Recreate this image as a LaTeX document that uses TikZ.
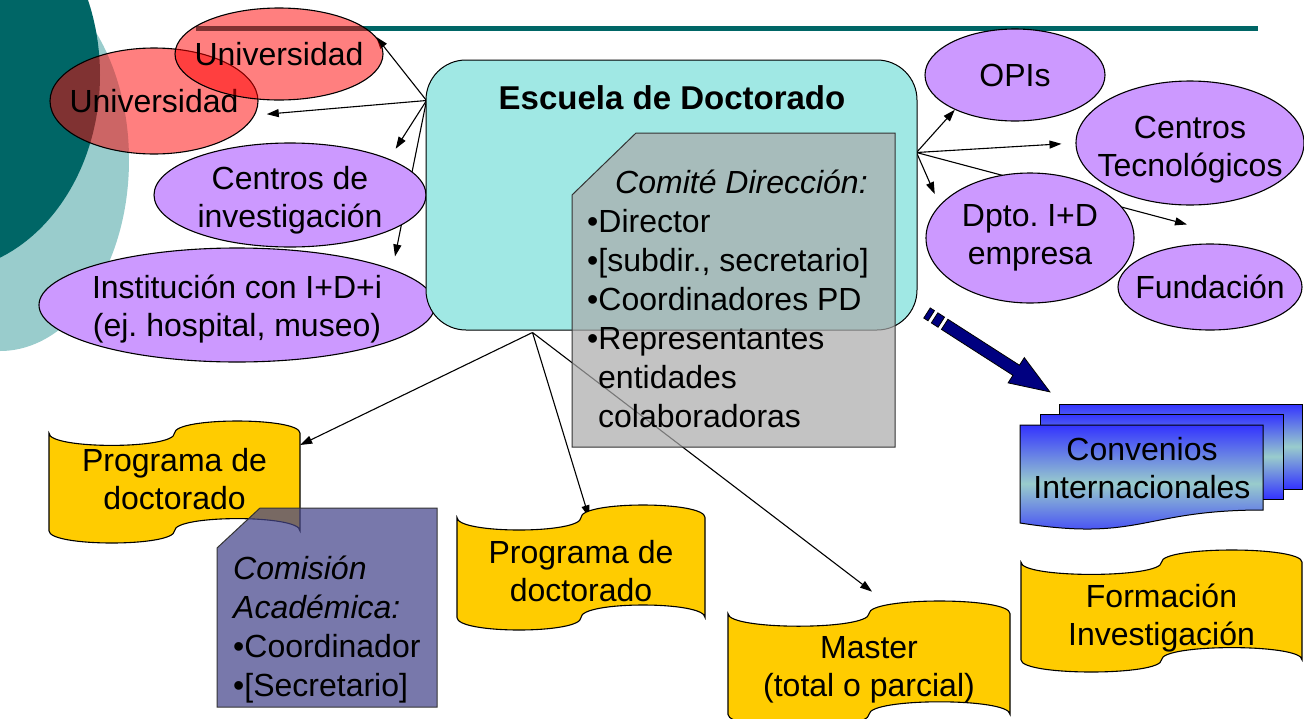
\documentclass[tikz,border=0pt]{standalone}
\usepackage{fontspec}
\setmainfont{Liberation Sans}
\usepackage{tikz}
\usetikzlibrary{calc,arrows.meta,positioning,shapes.geometric}
\usepackage{xcolor}
\definecolor{my_teal}{RGB}{0,102,102}
\definecolor{my_lteal}{RGB}{153,204,204}
\definecolor{my_lilac}{RGB}{204,153,255}
\definecolor{my_cyan}{RGB}{160,232,228}
\definecolor{my_gold}{RGB}{255,204,0}
\definecolor{my_slate}{RGB}{68,68,138}
\definecolor{my_grey}{RGB}{170,170,170}
\definecolor{my_navy}{RGB}{0,0,128}
\definecolor{my_blue}{RGB}{51,51,255}
\pgfdeclarelayer{background}
\pgfdeclarelayer{links}
\pgfsetlayers{background,links,main}
\tikzset{
  bigfont/.style    = {font=\fontsize{32}{38}\selectfont},
  blob/.style       = {ellipse, draw=black, line width=1.1pt, inner sep=-40pt, align=center, bigfont},
  uninode/.style    = {blob, fill=red, fill opacity=0.5, text opacity=1},
  labnode/.style    = {blob, fill=my_lilac},
  schoolbox/.style  = {rectangle, rounded corners=40pt, draw=black, line width=1pt, fill=my_cyan},
  tape/.style       = {draw=black, line width=1.1pt, fill=my_gold},
  tapetxt/.style    = {inner sep=0pt, align=center, bigfont},
  docsheet/.style   = {draw=black, line width=1pt, top color=my_blue, bottom color=my_blue, middle color=my_lteal},
  committee/.style  = {draw=black!80, line width=1pt, fill=my_grey, fill opacity=0.7},
  commission/.style = {draw=black!80, line width=1pt, fill=my_slate, fill opacity=0.72},
  listtxt/.style    = {inner sep=0pt, align=left, font=\fontsize{32}{39}\selectfont},
  stripearrow/.style= {fill=my_navy, draw=black, line width=0.8pt},
  conn/.style       = {black, line width=1.1pt, -{Triangle[length=12pt,width=8pt]}}
}
% punched tape outline: top-left x, top-left y, width, height
\newcommand{\tapeshape}[4]{%
  \draw[tape] ({#1},{#2+0.1*#4})
    .. controls ({#1},{#2+0.2333*#4}) and ({#1+0.5*#3},{#2+0.2333*#4}) .. ({#1+0.5*#3},{#2+0.1*#4})
    .. controls ({#1+0.5*#3},{#2-0.0333*#4}) and ({#1+#3},{#2-0.0333*#4}) .. ({#1+#3},{#2+0.1*#4})
    -- ({#1+#3},{#2+0.9*#4})
    .. controls ({#1+#3},{#2+0.7667*#4}) and ({#1+0.5*#3},{#2+0.7667*#4}) .. ({#1+0.5*#3},{#2+0.9*#4})
    .. controls ({#1+0.5*#3},{#2+1.0333*#4}) and ({#1},{#2+1.0333*#4}) .. ({#1},{#2+0.9*#4})
    -- cycle;
}

\begin{document}
\frenchspacing
\begin{tikzpicture}[x=1pt, y=-1pt]
    \useasboundingbox (0,0) rectangle (1304,718);

    % ----- Background -----
    \begin{pgfonlayer}{background}
      \fill[my_lteal] (0,160) ellipse [x radius=129, y radius=191];
      \fill[my_teal] (-60,75) ellipse [x radius=160, y radius=197];
      \draw[my_teal, line width=5pt] (196,28) -- (1258,28);
    \end{pgfonlayer}

    % ----- Partners on the left -----
    \node[uninode, minimum width=208pt, minimum height=106pt] (uni2) at (154,101) {Universidad};
    \node[uninode, minimum width=208pt, minimum height=92pt] (uni1) at (279,54) {Universidad};
    \node[labnode, minimum width=272pt, minimum height=104pt] (centros) at (290,195) {\rule{0pt}{34pt}Centros de\\investigación};
    \node[labnode, minimum width=396pt, minimum height=114pt] (inst) at (237,305) {\rule{0pt}{32pt}Institución con I+D+i\\(ej. hospital, museo)};

    % ----- Escuela de Doctorado -----
    \node[schoolbox, minimum width=491pt, minimum height=270pt] (escuela) at (671.5,195) {};
    \node[font=\fontsize{33}{38}\selectfont\bfseries] (esctitle) at (672,98) {Escuela de Doctorado};
    \coordinate (escL) at ($(escuela.north west)+(1,41)$);
    \coordinate (escR) at ($(escuela.north east)+(-1,93)$);
    \coordinate (escB) at ($(escuela.south west)+(107,2)$);

    % ----- Partners on the right -----
    \node[labnode, minimum width=180pt, minimum height=92pt] (opis) at (1015,75) {OPIs};
    \node[labnode, minimum width=228pt, minimum height=124pt] (centec) at (1190,143) {\rule{0pt}{36pt}Centros\\Tecnológicos};
    \node[labnode, minimum width=208pt, minimum height=130pt] (dpto) at (1030,238) {Dpto. I+D\\empresa};
    \node[labnode, minimum width=184pt, minimum height=86pt] (fund) at (1210,287) {Fundación};

    % ----- Programmes -----
    \tapeshape{49}{421}{251}{122}
    \node[tapetxt, minimum width=251pt, minimum height=97.6pt] (prog1) at (174.5,479) {Programa de\\doctorado};
    \tapeshape{457}{505}{248}{125}
    \node[tapetxt, minimum width=248pt, minimum height=100pt] (prog2) at (581,571.5) {Programa de\\doctorado};
    \tapeshape{728}{601}{282}{126}
    \node[tapetxt, minimum width=282pt, minimum height=94.4pt] (master) at (869,670) {Master\\(total o parcial)};
    \tapeshape{1021}{550}{281}{122}
    \node[tapetxt, minimum width=281pt, minimum height=97.6pt] (formac) at (1161.5,618) {Formación\\Investigación};

    % ----- Comision academica -----
    \filldraw[commission] (217,548) -- (260,508) -- (437,508) -- (437,707) -- (217,707) -- cycle;
    \node[listtxt, anchor=north west] (comision) at (233,556)
      {\textit{Comisión}\\\textit{Académica:}\\•Coordinador\\•[Secretario]};

    % ----- Convenios (stacked sheets) -----
    \foreach \dx/\dy in {39/-21, 20/-11}{
      \draw[docsheet] ({1020+\dx},{425+\dy}) rectangle ({1263+\dx},{510+\dy});
    }
    \draw[docsheet] (1020,425) -- (1263,425) -- (1263,510)
      .. controls (1141.5,510) and (1141.5,542) .. (1020,523) -- cycle;
    \node[tapetxt] (convenios) at (1142,468) {Convenios\\Internacionales};

    % ----- Striped arrow towards the agreements -----
    \begin{scope}[shift={(927,313)}, rotate=-32.7]
      \filldraw[stripearrow] (0,-6) rectangle (5,6);
      \filldraw[stripearrow] (9,-6) rectangle (17,6);
      \filldraw[stripearrow] (21,-6) -- (106,-6) -- (106,-15) -- (146,0)
        -- (106,15) -- (106,6) -- (21,6) -- cycle;
    \end{scope}

    % ----- Comite de direccion -----
    \filldraw[committee] (572,195) -- (636,133) -- (895,133) -- (895,447) -- (572,447) -- cycle;
    \node[listtxt, anchor=north west] (comite) at (587,170)
      {\hspace*{28pt}\textit{Comité Dirección:}\\•Director\\•[subdir., secretario]\\•Coordinadores PD\\•Representantes\\\hspace*{11pt}entidades\\\hspace*{11pt}colaboradoras};

    % ----- Connections (under the shapes) -----
    \begin{pgfonlayer}{links}
      \foreach \t/\s in {uni1.10/0pt, uni2.-8/12pt, centros.20/12pt}{
        \draw[conn, shorten >=\s] (escL) -- (\t);
      }
      \draw[conn] (escL) -- ($(inst.north)+(158,9)$);

      \draw[conn] (escR) -- (opis.210);
      \draw[conn, shorten >=14pt] (escR) -- (centec.west);
      \draw[conn, shorten >=12pt] (escR) -- (dpto.160);
      \draw[conn] (escR) -- ($(fund.north)+(-23,-19)$);

      \draw[conn] (escB) -- ($(prog1.north east)+(0,15)$);
      \draw[conn] (escB) -- ($(prog2.north)+(8,-4)$);
      \draw[conn] (escB) -- ($(master.north)+(3,-31)$);
    \end{pgfonlayer}
\end{tikzpicture}
\end{document}
